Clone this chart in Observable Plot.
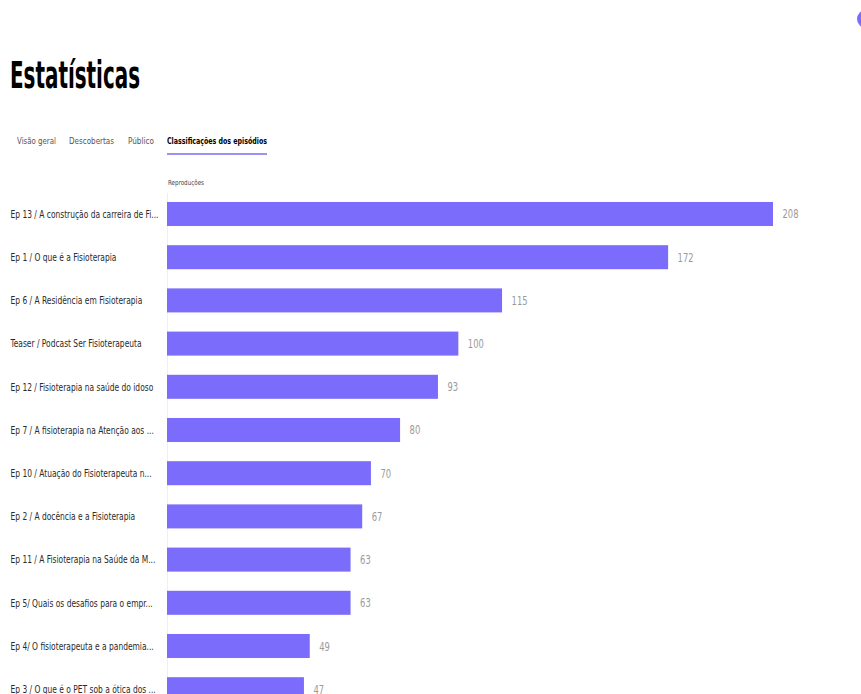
<!DOCTYPE html>
<html><head><meta charset="utf-8">
<script src="https://cdn.jsdelivr.net/npm/d3@7"></script>
<script src="https://cdn.jsdelivr.net/npm/@observablehq/plot@0.6"></script>
<style>
html,body{margin:0;padding:0;background:#fff;}
body{width:861px;height:694px;overflow:hidden;position:relative;font-family:"Liberation Sans Narrow","DejaVu Sans Condensed","Liberation Sans",sans-serif;}
.abs{position:absolute;white-space:nowrap;transform-origin:0 0;}
#title{left:10px;top:58px;font-size:37px;line-height:36px;font-weight:bold;color:#000;}
.tab{top:137px;font-size:9px;line-height:9px;color:#555;}
.tab.active{color:#000;font-weight:bold;}
#underline{position:absolute;left:167px;top:153px;width:100px;height:2px;background:#9a92f7;}
#metric{left:168px;top:180px;font-size:7px;line-height:7px;color:#444;}
#dot{position:absolute;left:857px;top:10px;width:18px;height:18px;border-radius:50%;background:#7b6cfb;}
#chart{position:absolute;left:0;top:190px;}
</style>
</head><body>
<div id="title" class="abs" data-w="130">Estatísticas</div>
<div class="abs tab" style="left:17px" data-w="39">Visão geral</div>
<div class="abs tab" style="left:69px" data-w="45">Descobertas</div>
<div class="abs tab" style="left:128px" data-w="26">Público</div>
<div class="abs tab active" style="left:167px" data-w="100">Classificações dos episódios</div>
<div id="underline"></div>
<div id="metric" class="abs" data-w="36">Reproduções</div>
<div id="dot"></div>
<div id="chart"></div>
<script>
const episodes = [
  "Ep 13 / A construção da carreira de Fi...",
  "Ep 1 / O que é a Fisioterapia",
  "Ep 6 / A Residência em Fisioterapia",
  "Teaser / Podcast Ser Fisioterapeuta",
  "Ep 12 / Fisioterapia na saúde do idoso",
  "Ep 7 / A fisioterapia na Atenção aos ...",
  "Ep 10 / Atuação do Fisioterapeuta n...",
  "Ep 2 / A docência e a Fisioterapia",
  "Ep 11 / A Fisioterapia na Saúde da M...",
  "Ep 5/ Quais os desafios para o empr...",
  "Ep 4/ O fisioterapeuta e a pandemia...",
  "Ep 3 / O que é o PET sob a ótica dos ..."
];
const plays = [208, 172, 115, 100, 93, 80, 70, 67, 63, 63, 49, 47];

const data = episodes.map((label, i) => ({label, plays: plays[i]}));

const chart = Plot.plot({
  width: 861,
  height: 560,
  marginLeft: 167,
  marginRight: 88,
  marginTop: 3,
  marginBottom: 39.8,
  x: {domain: [0, 208], axis: null},
  y: {domain: episodes, axis: null, paddingInner: 0.444, paddingOuter: 0.208, round: false},
  style: {fontFamily: '"Liberation Sans Narrow","DejaVu Sans Condensed","Liberation Sans",sans-serif', background: "transparent", overflow: "visible"},
  marks: [
    Plot.ruleX([0], {stroke: "#efefef", strokeWidth: 1}),
    Plot.barX(data, {x: "plays", y: "label", fill: "#7b6cfb"}),
    Plot.text(data, {x: "plays", y: "label", text: d => String(d.plays), textAnchor: "start", dx: 9, fill: "#9a9a9a", fontSize: 12.5, className: "val"}),
    Plot.text(data, {y: "label", text: "label", frameAnchor: "left", textAnchor: "start", dx: -157, fill: "#2a2a2a", fontSize: 10.5, className: "cat"})
  ]
});
document.getElementById("chart").appendChild(chart);

// condense text horizontally to match the reference's narrow typeface
function squish(selector, refText, target) {
  const nodes = chart.querySelectorAll(selector + " text");
  let f = 1;
  nodes.forEach(n => { if (n.textContent === refText) f = target / n.getComputedTextLength(); });
  nodes.forEach(n => {
    const w = n.getComputedTextLength();
    n.setAttribute("textLength", (w * f).toFixed(2));
    n.setAttribute("lengthAdjust", "spacingAndGlyphs");
  });
}
squish(".cat", episodes[0], 148);
squish(".val", "208", 16);

document.querySelectorAll(".abs[data-w]").forEach(el => {
  const w = el.getBoundingClientRect().width;
  el.style.transform = `scaleX(${(+el.dataset.w / w).toFixed(4)})`;
});
</script>
</body></html>
